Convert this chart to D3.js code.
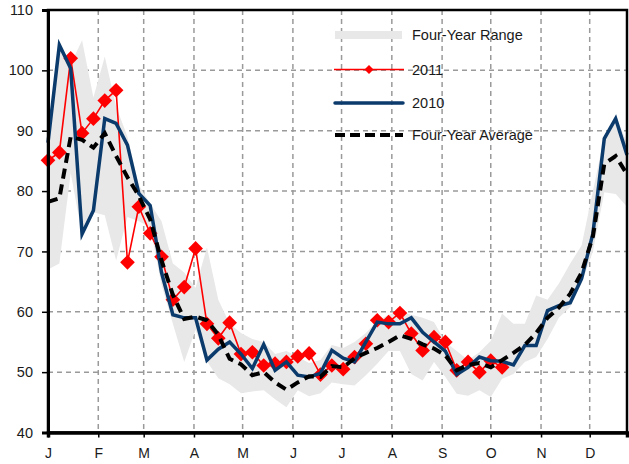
<!DOCTYPE html>
<html>
<head>
<meta charset="utf-8">
<script src="https://cdn.jsdelivr.net/npm/d3@7"></script>
<style>
  body { margin: 0; background: #fff; }
  text { font-family: "Liberation Sans", Arial, sans-serif; fill: #1a1a1a; }
</style>
</head>
<body>
<script>
// weekly values, first week starts Jan 1
var rangeMax = [89, 104.2, 101, 105, 95.5, 102.3, 94, 89, 81, 78, 75, 68, 66.5, 64, 70.7, 62, 58, 56.5, 55.5, 55,
  53, 53.5, 52.5, 51.5, 52, 54.5, 54, 55, 56.5, 58.5, 59.5, 60, 59.5, 59, 58.3, 55, 53.5, 52, 53.3, 55.2,
  59.7, 58, 58, 62.7, 62, 64.7, 68, 71, 80, 89, 92.5, 88];
var rangeMin = [67, 68, 83, 72.8, 76.5, 76, 68.5, 75.7, 75, 74, 64.5, 58, 51.7, 57, 51.8, 49, 48, 46.5, 46.8, 47,
  45.5, 44.2, 47, 46, 46.5, 48.3, 48, 47.8, 49.5, 51.4, 53.5, 53.5, 49.7, 48.6, 51.7, 49.2, 46.4, 46.1, 47, 45.9,
  48.9, 49.7, 51.7, 52.5, 55.5, 59, 60.8, 64.7, 70, 79.8, 79.5, 77.4];
var y2011 = [85.1, 86.4, 102, 89.6, 92, 95, 96.7, 68.2, 77.4, 73, 69.1, 62, 64.1, 70.5, 58, 55.6, 58.2, 53, 53.3, 51.1,
  51.4, 51.7, 52.6, 53.1, 49.6, 51.1, 50.5, 52.5, 54.7, 58.6, 58.3, 59.8, 56.4, 53.6, 55.8, 55, 50.3, 51.7, 50, 51.9,
  50.8];
var y2010 = [88, 104.2, 100.3, 72.9, 76.8, 92, 91.2, 87.6, 79.6, 77.6, 66.5, 59.5, 59, 59, 52, 53.8, 55, 53, 50.6, 54.6,
  50.3, 51.7, 49.5, 49.2, 49.8, 53.6, 52.3, 51.7, 55, 58.3, 58, 58, 59, 56.6, 55, 53.5, 49.6, 50.8, 52.5, 51.9,
  51.8, 51.2, 54.4, 54.4, 60.2, 61, 61.5, 65.5, 73, 88.7, 92, 86];
var avg = [78.2, 78.8, 89, 88.5, 87.2, 89.6, 85.8, 82.3, 79.2, 75.3, 68.5, 62.8, 58.8, 59.2, 58.6, 56.2, 52.2, 51.3, 49.5, 50,
  48.3, 47.1, 48.3, 49.3, 49.2, 51, 50.8, 52.3, 53.2, 54, 55, 56.1, 55.5, 54.6, 53.9, 52.8, 50.3, 51.2, 51.5, 50.8,
  52, 53.2, 54.5, 56.5, 59, 60.7, 63, 66.5, 72.5, 84.5, 85.8, 82.8];
var monthLabels = ["J", "F", "M", "A", "M", "J", "J", "A", "S", "O", "N", "D"];
var yTicks = [40, 50, 60, 70, 80, 90, 100, 110];
var legendNames = ["Four-Year Range", "2011", "2010", "Four-Year Average"];

var width = 629,
    height = 464;

var start = new Date(2011, 0, 1);
function weekDate(i) { return d3.timeDay.offset(start, 7 * i); }

var x = d3.scaleTime()
  .domain([start, weekDate(51)])
  .range([48, 627]);
var y = d3.scaleLinear()
  .domain([40, 110])
  .range([432.5, 10]);

var svg = d3.select('body')
  .append('svg')
  .attr('width', width)
  .attr('height', height);

var months = d3.timeMonth.range(start, new Date(2011, 11, 2));

// grid
svg.append('g')
  .selectAll('line')
  .data(yTicks.slice(1, -1))
  .enter()
  .append('line')
  .attr('x1', 48).attr('x2', 627)
  .attr('y1', function(d) { return y(d); })
  .attr('y2', function(d) { return y(d); })
  .attr('stroke', '#9a9a9a')
  .attr('stroke-width', 1.5)
  .attr('stroke-dasharray', '5,4');

svg.append('g')
  .selectAll('line')
  .data(months.slice(1))
  .enter()
  .append('line')
  .attr('x1', function(d) { return x(d); })
  .attr('x2', function(d) { return x(d); })
  .attr('y1', y(110)).attr('y2', y(40))
  .attr('stroke', '#9a9a9a')
  .attr('stroke-width', 1.5)
  .attr('stroke-dasharray', '5,4');

// range band
var area = d3.area()
  .x(function(d, i) { return x(weekDate(i)); })
  .y0(function(d, i) { return y(rangeMin[i]); })
  .y1(function(d) { return y(d); });

svg.append('path')
  .datum(rangeMax)
  .attr('d', area)
  .attr('fill', '#e8e8e8');

var line = d3.line()
  .x(function(d, i) { return x(weekDate(i)); })
  .y(function(d) { return y(d); });

// 2011
svg.append('path')
  .datum(y2011)
  .attr('d', line)
  .attr('fill', 'none')
  .attr('stroke', '#ff0000')
  .attr('stroke-width', 1.6);

var diamond = d3.symbol().type(d3.symbolSquare).size(108);

svg.append('g')
  .selectAll('path')
  .data(y2011)
  .enter()
  .append('path')
  .attr('d', diamond)
  .attr('transform', function(d, i) {
    return 'translate(' + x(weekDate(i)) + ',' + y(d) + ') rotate(45)';
  })
  .attr('fill', '#ff0000');

// 2010
svg.append('path')
  .datum(y2010)
  .attr('d', line)
  .attr('fill', 'none')
  .attr('stroke', '#0b3a6c')
  .attr('stroke-width', 3.5)
  .attr('stroke-linejoin', 'miter');

// average
svg.append('path')
  .datum(avg)
  .attr('d', line)
  .attr('fill', 'none')
  .attr('stroke', '#000')
  .attr('stroke-width', 4)
  .attr('stroke-dasharray', '10,6');

// border
svg.append('rect')
  .attr('x', 48).attr('y', y(110))
  .attr('width', 627 - 48).attr('height', y(40) - y(110))
  .attr('fill', 'none')
  .attr('stroke', '#000')
  .attr('stroke-width', 2.5);

// axes
var yAxis = svg.append('g')
  .attr('transform', 'translate(48,0)')
  .call(d3.axisLeft(y).tickValues(yTicks).tickSize(6).tickPadding(9));
yAxis.select('.domain').attr('stroke-width', 3);
yAxis.selectAll('.tick line').attr('stroke-width', 1.5);
yAxis.selectAll('text').style('font-size', '14.5px').attr('fill', '#1a1a1a');

var xAxis = svg.append('g')
  .attr('transform', 'translate(0,' + y(40) + ')')
  .call(d3.axisBottom(x).tickValues(months).tickSize(5).tickPadding(11)
    .tickFormat(function(d, i) { return monthLabels[i]; }));
xAxis.select('.domain').attr('stroke-width', 3.5);
xAxis.selectAll('.tick line').attr('stroke-width', 1.5);
xAxis.selectAll('text').style('font-size', '14px').attr('fill', '#1a1a1a');

// legend
var legend = svg.append('g');
var legendY = [35, 69.5, 103, 135];

legend.append('line')
  .attr('x1', 335).attr('x2', 402)
  .attr('y1', legendY[0]).attr('y2', legendY[0])
  .attr('stroke', '#e8e8e8').attr('stroke-width', 8);
legend.append('line')
  .attr('x1', 334).attr('x2', 404)
  .attr('y1', legendY[1]).attr('y2', legendY[1])
  .attr('stroke', '#ff0000').attr('stroke-width', 1.6);
legend.append('path')
  .attr('d', d3.symbol().type(d3.symbolSquare).size(40))
  .attr('transform', 'translate(369,' + legendY[1] + ') rotate(45)')
  .attr('fill', '#ff0000');
legend.append('line')
  .attr('x1', 335).attr('x2', 403)
  .attr('y1', legendY[2]).attr('y2', legendY[2])
  .attr('stroke', '#0b3a6c').attr('stroke-width', 3.5)
  .attr('stroke-linecap', 'round');
legend.append('line')
  .attr('x1', 335).attr('x2', 403)
  .attr('y1', legendY[3]).attr('y2', legendY[3])
  .attr('stroke', '#000').attr('stroke-width', 4)
  .attr('stroke-dasharray', '10,5');

legend.selectAll('text')
  .data(legendNames)
  .enter()
  .append('text')
  .attr('x', 412)
  .attr('y', function(d, i) { return legendY[i]; })
  .attr('dy', '0.36em')
  .style('font-size', '14.5px')
  .text(function(d) { return d; });
</script>
</body>
</html>
